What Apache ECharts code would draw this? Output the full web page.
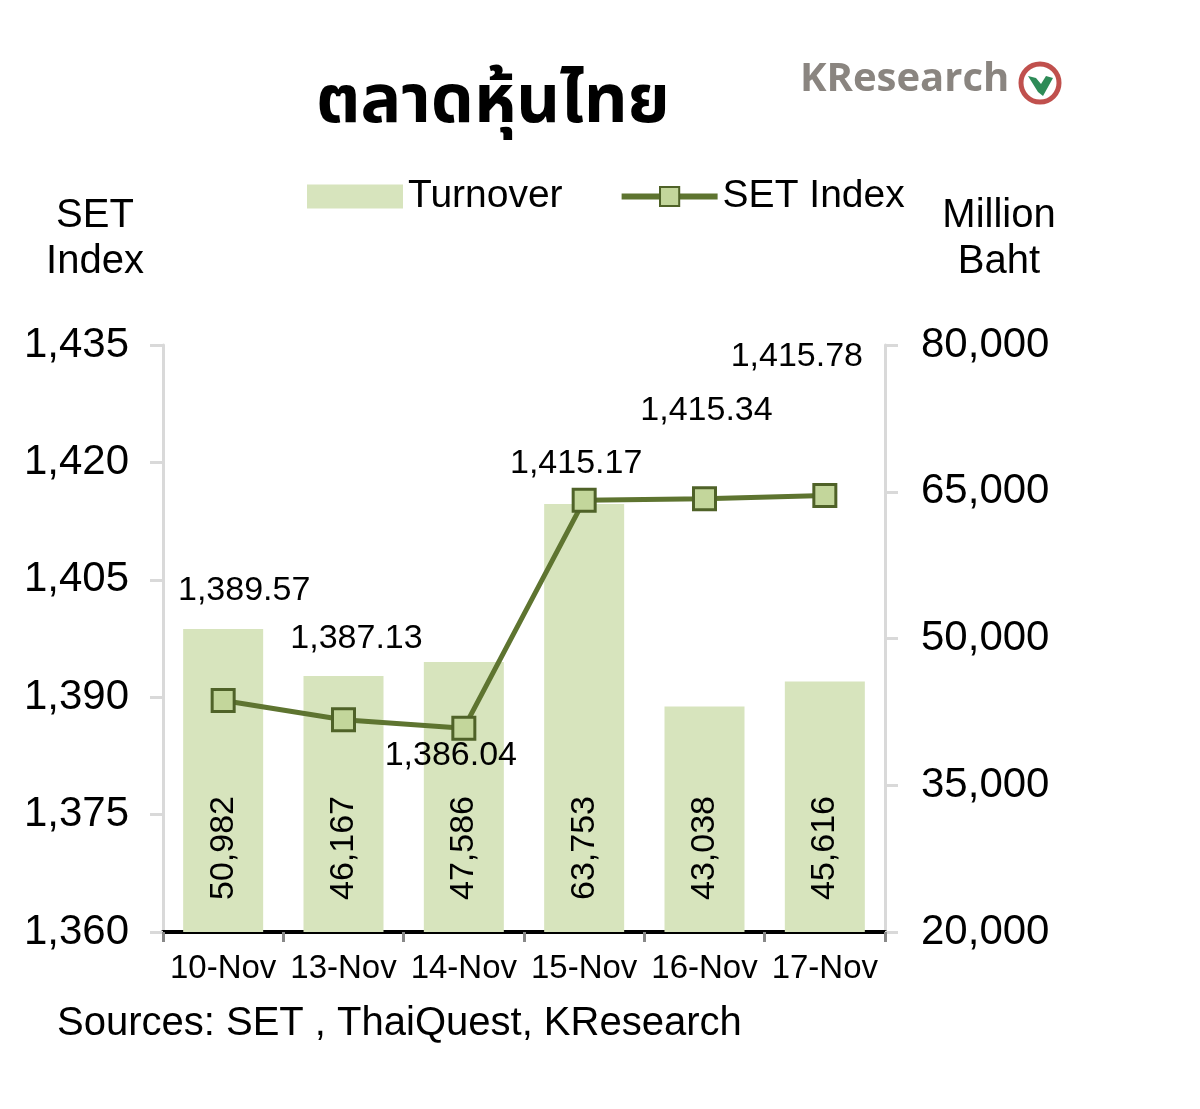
<!DOCTYPE html>
<html>
<head>
<meta charset="utf-8">
<style>html,body{margin:0;padding:0;background:#fff;}#c{width:1200px;height:1109px;}</style>
<script src="https://cdn.jsdelivr.net/npm/echarts@6/dist/echarts.min.js"></script>
</head>
<body>
<div id="c"></div>
<script>
var categories = ['10-Nov', '13-Nov', '14-Nov', '15-Nov', '16-Nov', '17-Nov'];
var turnover = [50982, 46167, 47586, 63753, 43038, 45616];
var setIndex = [1389.57, 1387.13, 1386.04, 1415.17, 1415.34, 1415.78];
var leftTicks = [1360, 1375, 1390, 1405, 1420, 1435];
var rightTicks = [20000, 35000, 50000, 65000, 80000];

// label placement (style only)
var setLabelOffsets = [[21, -75], [13, -47], [-13, 62], [-8, -2], [2, -54], [-28, -104]];

var FONT = '"Liberation Sans", Arial, sans-serif';
function fmt(v, d) {
  return v.toLocaleString('en-US', {minimumFractionDigits: d, maximumFractionDigits: d});
}

var chart = echarts.init(document.getElementById('c'));
var option = {
  backgroundColor: '#fff',
  animation: false,
  textStyle: {fontFamily: FONT, color: '#000'},
  legend: {
    left: 302, top: 172,
    itemWidth: 96, itemHeight: 24, itemGap: 56,
    textStyle: {fontFamily: FONT, fontSize: 39, color: '#000', padding: [0, 0, 0, 0]},
    data: [
      {name: 'Turnover', icon: 'rect'},
      {name: 'SET Index', lineStyle: {width: 6, color: '#5e7430'}}
    ]
  },
  grid: {left: 163, right: 315, top: 345, bottom: 177},
  xAxis: {
    type: 'category',
    data: categories,
    axisLine: {lineStyle: {color: '#000', width: 4}},
    axisTick: {show: true, length: 10, lineStyle: {color: '#888', width: 3}},
    axisLabel: {fontFamily: FONT, fontSize: 33, color: '#000', margin: 20, interval: 0}
  },
  yAxis: [
    {
      type: 'value', min: 1360, max: 1435, interval: 15,
      axisLine: {show: true, lineStyle: {color: '#d9d9d9', width: 3}},
      axisTick: {show: true, inside: false, length: 13, lineStyle: {color: '#d9d9d9', width: 3}},
      splitLine: {show: false},
      axisLabel: {fontFamily: FONT, fontSize: 42, color: '#000', margin: 34,
        formatter: function (v) { return fmt(v, 0); }}
    },
    {
      type: 'value', min: 20000, max: 80000, interval: 15000,
      axisLine: {show: true, lineStyle: {color: '#d9d9d9', width: 3}},
      axisTick: {show: true, inside: false, length: 13, lineStyle: {color: '#d9d9d9', width: 3}},
      splitLine: {show: false},
      axisLabel: {fontFamily: FONT, fontSize: 42, color: '#000', margin: 36,
        formatter: function (v) { return fmt(v, 0); }}
    }
  ],
  series: [
    {
      name: 'Turnover', type: 'bar', yAxisIndex: 1,
      data: turnover,
      barWidth: 80,
      itemStyle: {color: '#d7e4bd'},
      label: {
        show: true, position: 'insideBottom', distance: 32, rotate: 90,
        align: 'left', verticalAlign: 'middle',
        fontFamily: FONT, fontSize: 34, color: '#000',
        formatter: function (p) { return fmt(p.value, 0); }
      },
      z: 1
    },
    {
      name: 'SET Index', type: 'line', yAxisIndex: 0,
      data: setIndex.map(function (v, i) {
        return {value: v, label: {offset: setLabelOffsets[i]}};
      }),
      symbol: 'rect', symbolSize: 22,
      lineStyle: {color: '#5e7430', width: 5},
      itemStyle: {color: '#c3d69b', borderColor: '#4f6228', borderWidth: 3},
      label: {
        show: true, position: 'top',
        fontFamily: FONT, fontSize: 34, color: '#000',
        formatter: function (p) { return fmt(p.value, 2); }
      },
      z: 3
    }
  ],
  graphic: [
    {type: 'text', left: 316, top: 74, style: {text: 'ตลาดหุ้นไทย', font: 'bold 68px "Noto Sans Thai", "Noto Sans", "DejaVu Sans", sans-serif', fill: '#000'}},
    {type: 'text', left: 800, top: 60, style: {text: 'KResearch', font: 'bold 40px "Open Sans", "DejaVu Sans", sans-serif', fill: '#8a8580'}},
    {type: 'circle', shape: {cx: 1040, cy: 83, r: 19}, style: {fill: '#fff', stroke: '#c0504d', lineWidth: 5}},
    {type: 'polygon', shape: {points: [[1028, 76], [1036, 78], [1041, 84], [1046, 76], [1053, 78], [1043, 96], [1038, 92]]}, style: {fill: '#2e8b57'}},
    {type: 'text', x: 95, y: 193, style: {text: 'SET\nIndex', font: '40px ' + FONT, fill: '#000', align: 'center', lineHeight: 46}},
    {type: 'text', x: 999, y: 193, style: {text: 'Million\nBaht', font: '40px ' + FONT, fill: '#000', align: 'center', lineHeight: 46}},
    {type: 'text', left: 57, top: 1004, style: {text: 'Sources: SET , ThaiQuest, KResearch', font: '40px ' + FONT, fill: '#000'}}
  ]
};
chart.setOption(option);
</script>
</body>
</html>
